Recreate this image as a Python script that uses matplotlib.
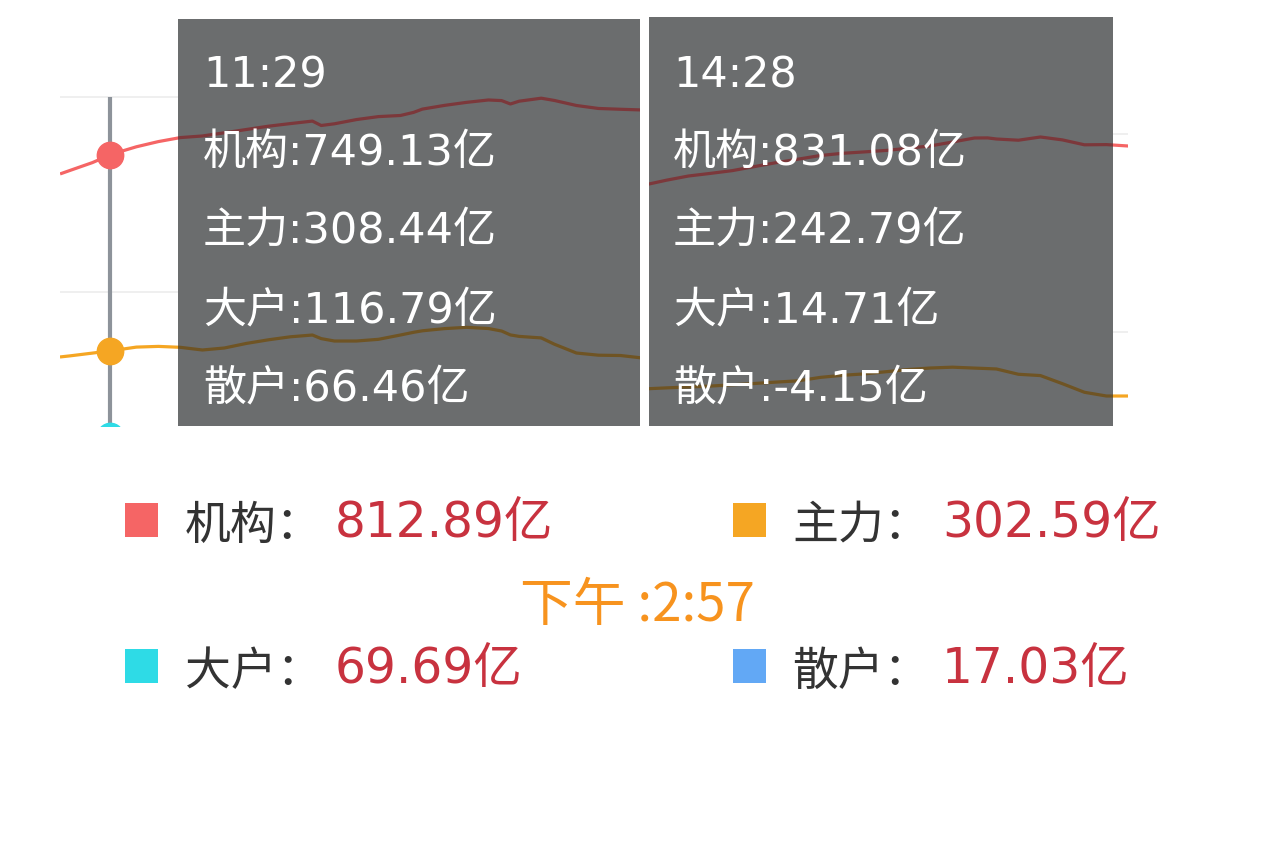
import matplotlib
matplotlib.use("Agg")
import matplotlib.pyplot as plt
from matplotlib.patches import Rectangle

plt.rcParams['font.family'] = ['Noto Sans CJK SC', 'DejaVu Sans']
# 数字用 DejaVu（较宽），汉字回退到 Noto
NUM_FONT = ['DejaVu Sans', 'Noto Sans CJK SC']

# 左图：上午到收盘（分钟序号，9:30 起算）
left_minutes = [108, 110, 115, 119, 120, 125, 130, 135, 140, 145, 150, 155, 160, 165, 167,
                170, 175, 180, 185, 188, 190, 195, 200, 205, 208, 210, 212, 215, 217, 220,
                225, 230, 235, 240]
left_jigou = [707.7, 714.7, 732.0, 749.13, 752.7, 767.6, 779.3, 788.3, 791.9, 799.1, 806.5,
              813.9, 819.8, 825.4, 815.5, 819.3, 828.8, 835.5, 838.0, 845.0, 852.4, 860.7,
              867.5, 872.9, 871.5, 863.9, 870.2, 874.2, 876.9, 871.8, 860.5, 853.8, 852.0, 850.4]
left_zhuli = [295.1, 297.3, 303.4, 308.44, 309.7, 316.9, 318.5, 316.4, 310.4, 314.9, 325.2,
              333.3, 340.1, 344.1, 336.0, 330.6, 330.6, 334.4, 344.1, 350.2, 353.6, 358.5,
              361.4, 358.7, 353.1, 344.3, 341.0, 338.9, 337.6, 323.4, 303.6, 298.7, 298.0, 292.4]

# 右图
right_minutes = [130, 135, 140, 145, 150, 155, 160, 165, 170, 175, 180, 185, 190, 195, 200,
                 205, 208, 210, 215, 220, 225, 230, 235, 240]
right_jigou = [711.0, 723.2, 733.9, 740.6, 747.7, 757.9, 768.1, 777.0, 786.2, 791.8, 795.4,
               799.2, 804.8, 810.7, 820.6, 830.8, 831.08, 828.3, 825.2, 833.4, 826.0, 813.5,
               814.0, 810.4]
right_zhuli = [191.0, 193.6, 195.9, 198.2, 201.5, 204.8, 208.4, 211.7, 220.4, 225.7, 229.3,
               234.9, 240.5, 244.3, 246.4, 244.1, 242.79, 241.8, 228.3, 225.0, 204.3, 182.4,
               172.9, 172.9]

series_names = ['机构', '主力', '大户', '散户']
series_colors = ['#f56565', '#f5a623', '#2edbe6', '#62a8f5']
dark_colors = ['#7c383b', '#6f5424', '#4a6f72', '#4f6479']

tip_left_time = '11:29'
tip_left_minute = 119
tip_left_values = [749.13, 308.44, 116.79, 66.46]
tip_right_time = '14:28'
tip_right_values = [831.08, 242.79, 14.71, -4.15]

legend_values = [812.89, 302.59, 69.69, 17.03]
clock_text = '下午 :2:57'

W, H = 1280, 853
fig = plt.figure(figsize=(W / 100, H / 100), dpi=100)


def fx(px):
    return px / W


def fy(py):
    return 1 - py / H


def make_panel(rect, xlim, ylim, grid_vals):
    ax = fig.add_axes(rect)
    ax.set_xlim(*xlim)
    ax.set_ylim(*ylim)
    ax.set_yticks(grid_vals)
    ax.set_xticks([])
    ax.grid(axis='y', color='#ececec', linewidth=1.2)
    ax.tick_params(left=False, labelleft=False)
    for s in ax.spines.values():
        s.set_visible(False)
    ax.set_facecolor('none')
    return ax


def tooltip_box(ax, x0, y0, x1, y1):
    box = Rectangle((fx(x0), fy(y1)), fx(x1) - fx(x0), fy(y0) - fy(y1),
                    transform=fig.transFigure, facecolor='#6b6d6e', edgecolor='none',
                    zorder=5, clip_on=False)
    ax.add_patch(box)
    return box


def tooltip_text(x, time_str, values):
    baselines = [87, 165, 243, 322, 400]
    fig.text(fx(x), fy(baselines[0]), time_str, color='white', fontsize=31,
             family=NUM_FONT, va='baseline', zorder=10)
    for name, v, y in zip(series_names, values, baselines[1:]):
        fig.text(fx(x), fy(y), f'{name}:{v:.2f}亿', color='white', fontsize=31,
                 family=NUM_FONT, va='baseline', zorder=10)


# 左侧面板
axL = make_panel([fx(60), fy(427), fx(640) - fx(60), fy(90) - fy(427)],
                 (107.64, 239.45), (139.4, 897.6), [440, 880])
for vals, c in [(left_jigou, series_colors[0]), (left_zhuli, series_colors[1])]:
    axL.plot(left_minutes, vals, color=c, linewidth=2.3, zorder=3)
boxL = tooltip_box(axL, 178, 20, 640, 427)
for vals, dc in [(left_jigou, dark_colors[0]), (left_zhuli, dark_colors[1])]:
    ln, = axL.plot(left_minutes, vals, color=dc, linewidth=2.3, zorder=6)
    ln.set_clip_path(boxL)
# 十字线和标记点
axL.vlines(tip_left_minute, 100, 880, color='#8d939a', linewidth=3, zorder=4)
for v, c in zip(tip_left_values, series_colors):
    axL.plot([tip_left_minute], [v], 'o', color=c, markersize=19, zorder=4.5)

# 右侧面板
axR = make_panel([fx(640), fy(427), fx(1128) - fx(640), fy(90) - fy(427)],
                 (129, 239.9), (96.4, 955.8), [336, 841])
for vals, c in [(right_jigou, series_colors[0]), (right_zhuli, series_colors[1])]:
    axR.plot(right_minutes, vals, color=c, linewidth=2.3, zorder=3)
boxR = tooltip_box(axR, 649, 18, 1113, 427)
for vals, dc in [(right_jigou, dark_colors[0]), (right_zhuli, dark_colors[1])]:
    ln, = axR.plot(right_minutes, vals, color=dc, linewidth=2.3, zorder=6)
    ln.set_clip_path(boxR)

# 两块之间的白色缝隙
fig.patches.append(Rectangle((fx(640), fy(427)), fx(649) - fx(640), fy(18) - fy(427),
                             transform=fig.transFigure, facecolor='white', edgecolor='none',
                             zorder=2))

tooltip_text(203, tip_left_time, tip_left_values)
tooltip_text(673, tip_right_time, tip_right_values)

# 底部图例
legend_pos = [(125, 185, 335, 537), (733, 792, 942, 537), (125, 185, 335, 683), (733, 792, 942, 683)]
for name, c, v, (sx, tx, vx, base) in zip(series_names, series_colors, legend_values, legend_pos):
    fig.patches.append(Rectangle((fx(sx), fy(base + 1)), fx(33), 34 / H,
                                 transform=fig.transFigure, facecolor=c, edgecolor='none'))
    fig.text(fx(tx), fy(base + 2), f'{name}：', color='#333333', fontsize=33, va='baseline')
    fig.text(fx(vx), fy(base), f'{v:.2f}亿', color='#c8323f', fontsize=35,
             family=NUM_FONT, va='baseline')

fig.text(fx(637), fy(621), clock_text, color='#f7931e', fontsize=38, ha='center', va='baseline')

fig.savefig('out.png', dpi=100, facecolor='white')
